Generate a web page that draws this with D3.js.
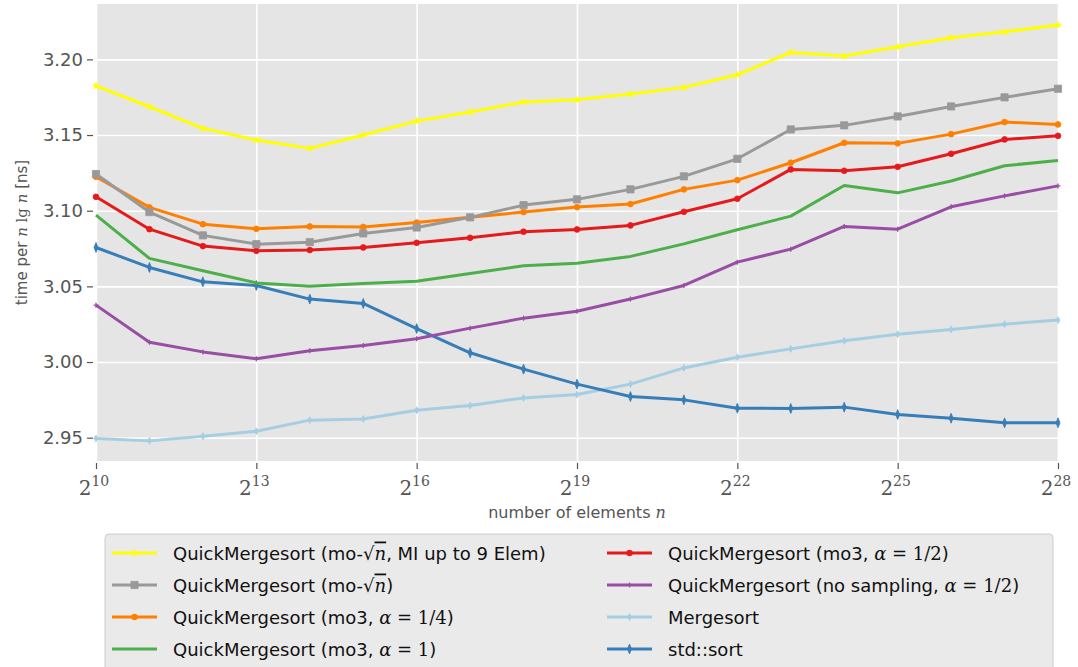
<!DOCTYPE html>
<html>
<head>
<meta charset="utf-8">
<script src="https://cdn.jsdelivr.net/npm/d3@7"></script>
<style>
	body { margin: 0; background: #fff; }
	text { font-family: "DejaVu Sans", sans-serif; fill: #555; }
	.math { font-family: "DejaVu Serif", serif; }
	.legend text { fill: #111; }
</style>
</head>
<body>
<div id="picture"></div>
<script>
// data (x = log2 n)
const exponents = d3.range(10, 29);

const qmsSqrtMI  = [3.1825, 3.1687, 3.1544, 3.1467, 3.1412, 3.1500, 3.1592, 3.1652, 3.1718, 3.1733, 3.1771, 3.1815, 3.1898, 3.2046, 3.2022, 3.2083, 3.2143, 3.2182, 3.2227];
const qmsSqrt    = [3.1242, 3.0991, 3.0837, 3.0779, 3.0792, 3.0850, 3.0889, 3.0956, 3.1037, 3.1075, 3.1141, 3.1227, 3.1343, 3.1537, 3.1564, 3.1623, 3.1689, 3.1749, 3.1806];
const qmsMo3Q    = [3.1224, 3.1022, 3.0911, 3.0880, 3.0896, 3.0893, 3.0922, 3.0956, 3.0991, 3.1024, 3.1044, 3.1141, 3.1202, 3.1317, 3.1449, 3.1445, 3.1506, 3.1586, 3.1570];
const qmsMo3One  = [3.0971, 3.0685, 3.0603, 3.0523, 3.0501, 3.0519, 3.0534, 3.0585, 3.0636, 3.0653, 3.0698, 3.0781, 3.0874, 3.0964, 3.1167, 3.1118, 3.1196, 3.1297, 3.1332];
const qmsMo3Half = [3.1092, 3.0878, 3.0766, 3.0735, 3.0740, 3.0757, 3.0788, 3.0821, 3.0861, 3.0876, 3.0903, 3.0993, 3.1079, 3.1273, 3.1264, 3.1290, 3.1376, 3.1471, 3.1495];
const qmsNoSamp  = [3.0376, 3.0131, 3.0067, 3.0021, 3.0074, 3.0109, 3.0154, 3.0224, 3.0290, 3.0336, 3.0416, 3.0506, 3.0660, 3.0746, 3.0896, 3.0878, 3.1026, 3.1098, 3.1164];
const mergesort  = [2.9495, 2.9479, 2.9510, 2.9543, 2.9616, 2.9624, 2.9681, 2.9713, 2.9763, 2.9785, 2.9854, 2.9961, 3.0032, 3.0087, 3.0140, 3.0184, 3.0215, 3.0250, 3.0277];
const stdSort    = [3.0757, 3.0625, 3.0530, 3.0506, 3.0416, 3.0387, 3.0221, 3.0061, 2.9953, 2.9854, 2.9772, 2.9750, 2.9695, 2.9693, 2.9702, 2.9653, 2.9629, 2.9598, 2.9598];

const yTicks = [2.95, 3.00, 3.05, 3.10, 3.15, 3.20];
const xTicks = [10, 13, 16, 19, 22, 25, 28];

// series: drawing order (later on top)
const series = [
	{ values: mergesort,  color: "#a6cee3", marker: "smalldiamond" },
	{ values: stdSort,    color: "#377eb8", marker: "thindiamond" },
	{ values: qmsNoSamp,  color: "#984ea3", marker: "plus" },
	{ values: qmsMo3One,  color: "#4daf4a", marker: "none" },
	{ values: qmsMo3Half, color: "#e41a1c", marker: "circle" },
	{ values: qmsMo3Q,    color: "#ff7f00", marker: "circle" },
	{ values: qmsSqrt,    color: "#999999", marker: "square" },
	{ values: qmsSqrtMI,  color: "#ffff00", marker: "star" }
];

// legend entries, label pieces: m = math font, i = italic, o = overline
const legendItems = [
	{ s: 7, col: 0, row: 0, label: [{ t: "QuickMergesort (mo-" }, { t: "\u221a", m: 1 }, { t: "n", m: 1, i: 1, o: 1 }, { t: ", MI up to 9 Elem)" }] },
	{ s: 6, col: 0, row: 1, label: [{ t: "QuickMergesort (mo-" }, { t: "\u221a", m: 1 }, { t: "n", m: 1, i: 1, o: 1 }, { t: ")" }] },
	{ s: 5, col: 0, row: 2, label: [{ t: "QuickMergesort (mo3, " }, { t: "\u03b1", m: 1, i: 1 }, { t: " = 1/4", m: 1 }, { t: ")" }] },
	{ s: 3, col: 0, row: 3, label: [{ t: "QuickMergesort (mo3, " }, { t: "\u03b1", m: 1, i: 1 }, { t: " = 1", m: 1 }, { t: ")" }] },
	{ s: 4, col: 1, row: 0, label: [{ t: "QuickMergesort (mo3, " }, { t: "\u03b1", m: 1, i: 1 }, { t: " = 1/2", m: 1 }, { t: ")" }] },
	{ s: 2, col: 1, row: 1, label: [{ t: "QuickMergesort (no sampling, " }, { t: "\u03b1", m: 1, i: 1 }, { t: " = 1/2", m: 1 }, { t: ")" }] },
	{ s: 0, col: 1, row: 2, label: [{ t: "Mergesort" }] },
	{ s: 1, col: 1, row: 3, label: [{ t: "std::sort" }] }
];

const width  = 1078
	, height = 667
	, plot   = { left: 96, right: 1058, top: 4, bottom: 461 };

const svg = d3.select("#picture")
	.append("svg")
		.attr("width", width)
		.attr("height", height);

const x = d3.scaleLinear()
	.domain([10, 28])
	.range([plot.left, plot.right]);
const y = d3.scaleLinear()
	.domain([2.9346, 3.2366])
	.range([plot.bottom, plot.top]);

// background + grid
svg.append("rect")
	.attr("x", plot.left)
	.attr("y", plot.top)
	.attr("width", plot.right - plot.left)
	.attr("height", plot.bottom - plot.top)
	.attr("fill", "#e5e5e5");

svg.append("g")
	.attr("transform", "translate(" + plot.left + ",0)")
	.call(d3.axisLeft(y)
		.tickValues(yTicks)
		.tickSize(-(plot.right - plot.left))
		.tickFormat(""))
	.call(g => g.select(".domain").remove())
	.call(g => g.selectAll("line").attr("stroke", "#fff").attr("stroke-width", 1.6));

svg.append("g")
	.attr("transform", "translate(0," + plot.bottom + ")")
	.call(d3.axisBottom(x)
		.tickValues(xTicks)
		.tickSize(-(plot.bottom - plot.top))
		.tickFormat(""))
	.call(g => g.select(".domain").remove())
	.call(g => g.selectAll("line").attr("stroke", "#fff").attr("stroke-width", 1.6));

// y axis ticks + labels
const yAxis = svg.append("g")
	.attr("transform", "translate(" + (plot.left - 3) + ",0)")
	.call(d3.axisLeft(y)
		.tickValues(yTicks)
		.tickSize(6)
		.tickPadding(4)
		.tickFormat(d3.format(".2f")));
yAxis.select(".domain").remove();
yAxis.selectAll("line").attr("stroke", "#555").attr("stroke-width", 1.2);
yAxis.selectAll("text")
	.attr("fill", "#555")
	.style("font-family", "\"DejaVu Sans\", sans-serif")
	.style("font-size", "18px");

// x axis ticks + labels (2^k)
const xAxis = svg.append("g")
	.attr("transform", "translate(0," + (plot.bottom + 2) + ")")
	.call(d3.axisBottom(x)
		.tickValues(xTicks)
		.tickSize(6)
		.tickFormat(""));
xAxis.select(".domain").remove();
xAxis.selectAll("line").attr("stroke", "#555").attr("stroke-width", 1.2);

const xLab = svg.append("g")
	.selectAll("text")
	.data(xTicks)
	.join("text")
		.attr("class", "math")
		.attr("x", d => x(d) - 2)
		.attr("y", 495)
		.attr("text-anchor", "middle")
		.style("font-size", "20px");
xLab.append("tspan").text("2");
xLab.append("tspan")
	.attr("dy", -9)
	.style("font-size", "14px")
	.text(d => d);

// axis titles
svg.append("text")
	.attr("x", (plot.left + plot.right) / 2)
	.attr("y", 518)
	.attr("text-anchor", "middle")
	.style("font-size", "16px")
	.call(t => {
		t.append("tspan").text("number of elements ");
		t.append("tspan").attr("class", "math").style("font-style", "italic").text("n");
	});

svg.append("text")
	.attr("transform", "translate(27," + ((plot.top + plot.bottom) / 2) + ") rotate(-90)")
	.attr("text-anchor", "middle")
	.style("font-size", "15px")
	.call(t => {
		t.append("tspan").text("time per ");
		t.append("tspan").attr("class", "math").style("font-style", "italic").text("n");
		t.append("tspan").attr("class", "math").text(" lg ");
		t.append("tspan").attr("class", "math").style("font-style", "italic").text("n");
		t.append("tspan").text(" [ns]");
	});

// markers
function markerPath(kind) {
	switch(kind) {
		case "square":       return d3.symbol(d3.symbolSquare, 52)();
		case "circle":       return d3.symbol(d3.symbolCircle, 26)();
		case "star":         return d3.symbol(d3.symbolStar, 14)();
		case "plus":         return "M-2.5,0H2.5M0,-2.5V2.5";
		case "smalldiamond": return d3.symbol(d3.symbolDiamond, 14)();
		case "thindiamond":  return "M0,-5L2,0L0,5L-2,0Z";
	}
	return null;
}

const line = d3.line()
	.x((d, i) => x(exponents[i]))
	.y(d => y(d));

const plotG = svg.append("g");
series.forEach(s => {
	plotG.append("path")
		.datum(s.values)
		.attr("d", line)
		.attr("fill", "none")
		.attr("stroke", s.color)
		.attr("stroke-width", 3)
		.attr("stroke-linejoin", "round");
	const mp = markerPath(s.marker);
	if(mp)
		plotG.append("g")
			.selectAll("path")
			.data(s.values)
			.join("path")
				.attr("transform", (d, i) => "translate(" + x(exponents[i]) + "," + y(d) + ")")
				.attr("d", mp)
				.attr("fill", s.color)
				.attr("stroke", s.color)
				.attr("stroke-width", s.marker == "plus" ? 1.3 : 0.8);
});

// legend
const legend = svg.append("g").attr("class", "legend");
legend.append("rect")
	.attr("x", 105)
	.attr("y", 534)
	.attr("width", 948)
	.attr("height", 150)
	.attr("rx", 4)
	.attr("fill", "#eaeaea")
	.attr("stroke", "#cccccc");

const colX = [112, 607]
	, rowY = d3.scaleLinear().domain([0, 3]).range([553, 649]);

legendItems.forEach(it => {
	const s  = series[it.s]
		, lx = colX[it.col]
		, ly = rowY(it.row);
	legend.append("line")
		.attr("x1", lx)
		.attr("x2", lx + 45)
		.attr("y1", ly)
		.attr("y2", ly)
		.attr("stroke", s.color)
		.attr("stroke-width", 3);
	const mp = markerPath(s.marker);
	if(mp)
		legend.append("path")
			.attr("transform", "translate(" + (lx + 22.5) + "," + ly + ")")
			.attr("d", mp)
			.attr("fill", s.color)
			.attr("stroke", s.color)
			.attr("stroke-width", s.marker == "plus" ? 1.3 : 0.8);
	const t = legend.append("text")
		.attr("x", lx + 61)
		.attr("y", ly + 6.5)
		.style("font-size", "18px");
	it.label.forEach(p => {
		const sp = t.append("tspan").text(p.t);
		if(p.m) sp.attr("class", "math");
		if(p.i) sp.style("font-style", "italic");
		if(p.o) sp.style("text-decoration", "overline");
	});
});
</script>
</body>
</html>
